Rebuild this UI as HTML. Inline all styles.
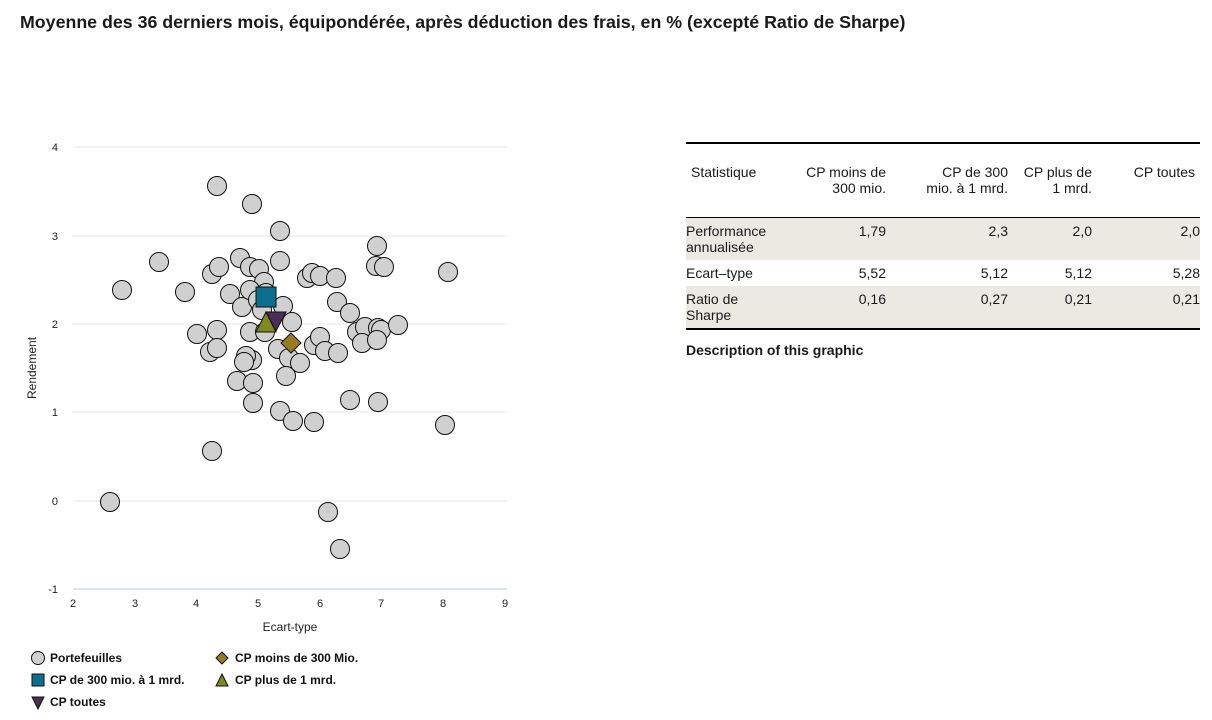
<!DOCTYPE html>
<html><head><meta charset="utf-8"><style>
body{margin:0;width:1212px;height:720px;background:#fff;font-family:"Liberation Sans",sans-serif;color:#1a1a1a;position:relative;overflow:hidden}
.t{position:absolute;left:20px;top:12px;font-size:17.8px;font-weight:bold}
table{position:absolute;left:686px;top:142px;width:514px;border-collapse:collapse;font-size:14px;border-top:2px solid #000;border-bottom:2px solid #000;table-layout:fixed}
td{vertical-align:top;padding:0;line-height:16px}
td.n{text-align:right}
tr.g td{background:#ebe9e2}
.d{position:absolute;left:686px;top:342px;font-size:14px;font-weight:bold}
</style></head><body>
<div class="t">Moyenne des 36 derniers mois, équipondérée, après déduction des frais, en % (excepté Ratio de Sharpe)</div>
<svg width="1212" height="720" style="position:absolute;left:0;top:0" font-family="Liberation Sans, sans-serif">
<g stroke="#e4e4e4" stroke-width="1">
<line x1="73" x2="507" y1="147" y2="147"/><line x1="73" x2="507" y1="236" y2="236"/><line x1="73" x2="507" y1="324" y2="324"/><line x1="73" x2="507" y1="412" y2="412"/><line x1="73" x2="507" y1="501" y2="501"/></g>
<line x1="73" x2="507" y1="589" y2="589" stroke="#b8c8e0"/>
<g font-size="11" fill="#222" text-anchor="end">
<text x="58" y="151">4</text><text x="58" y="240">3</text><text x="58" y="328">2</text><text x="58" y="416">1</text><text x="58" y="505">0</text><text x="58" y="593">-1</text></g>
<g font-size="11" fill="#222" text-anchor="middle">
<text x="73" y="607">2</text><text x="135" y="607">3</text><text x="196" y="607">4</text><text x="258" y="607">5</text><text x="320" y="607">6</text><text x="381" y="607">7</text><text x="443" y="607">8</text><text x="505" y="607">9</text>
<text x="290" y="631" font-size="12">Ecart-type</text>
<text transform="translate(36,368) rotate(-90)" font-size="12">Rendement</text></g>
<g fill="#d0d0d0" stroke="#111" stroke-width="1">
<circle cx="110" cy="502" r="9.5"/><circle cx="122" cy="290" r="9.5"/><circle cx="159" cy="262" r="9.5"/><circle cx="185" cy="292" r="9.5"/><circle cx="197" cy="334" r="9.5"/><circle cx="210" cy="352" r="9.5"/><circle cx="212" cy="451" r="9.5"/><circle cx="217" cy="186" r="9.5"/><circle cx="212" cy="274" r="9.5"/><circle cx="219" cy="267" r="9.5"/><circle cx="217" cy="330" r="9.5"/><circle cx="217" cy="348" r="9.5"/><circle cx="230" cy="294" r="9.5"/><circle cx="240" cy="258" r="9.5"/><circle cx="242" cy="307" r="9.5"/><circle cx="250" cy="267" r="9.5"/><circle cx="252" cy="204" r="9.5"/><circle cx="259" cy="269" r="9.5"/><circle cx="264" cy="282" r="9.5"/><circle cx="250" cy="290" r="9.5"/><circle cx="266" cy="293" r="9.5"/><circle cx="252" cy="360" r="9.5"/><circle cx="246" cy="356" r="9.5"/><circle cx="244" cy="362" r="9.5"/><circle cx="237" cy="381" r="9.5"/><circle cx="253" cy="383" r="9.5"/><circle cx="253" cy="403" r="9.5"/><circle cx="250" cy="332" r="9.5"/><circle cx="265" cy="332" r="9.5"/><circle cx="280" cy="231" r="9.5"/><circle cx="280" cy="261" r="9.5"/><circle cx="283" cy="306" r="9.5"/><circle cx="292" cy="322" r="9.5"/><circle cx="278" cy="349" r="9.5"/><circle cx="289" cy="358" r="9.5"/><circle cx="286" cy="376" r="9.5"/><circle cx="300" cy="363" r="9.5"/><circle cx="280" cy="411" r="9.5"/><circle cx="293" cy="421" r="9.5"/><circle cx="314" cy="422" r="9.5"/><circle cx="307" cy="278" r="9.5"/><circle cx="312" cy="273" r="9.5"/><circle cx="320" cy="276" r="9.5"/><circle cx="314" cy="345" r="9.5"/><circle cx="320" cy="337" r="9.5"/><circle cx="325" cy="351" r="9.5"/><circle cx="338" cy="353" r="9.5"/><circle cx="336" cy="278" r="9.5"/><circle cx="337" cy="302" r="9.5"/><circle cx="350" cy="313" r="9.5"/><circle cx="357" cy="332" r="9.5"/><circle cx="365" cy="327" r="9.5"/><circle cx="362" cy="343" r="9.5"/><circle cx="378" cy="328" r="9.5"/><circle cx="381" cy="330" r="9.5"/><circle cx="377" cy="340" r="9.5"/><circle cx="398" cy="325" r="9.5"/><circle cx="376" cy="266" r="9.5"/><circle cx="384" cy="267" r="9.5"/><circle cx="377" cy="246" r="9.5"/><circle cx="350" cy="400" r="9.5"/><circle cx="378" cy="402" r="9.5"/><circle cx="445" cy="425" r="9.5"/><circle cx="448" cy="272" r="9.5"/><circle cx="328" cy="512" r="9.5"/><circle cx="340" cy="549" r="9.5"/><circle cx="258" cy="300" r="9.5"/><circle cx="262" cy="310" r="9.5"/></g>
<rect x="256" y="287" width="20" height="20" fill="#0a6f8f" stroke="#111"/>
<polygon points="291,333 301,343 291,353 281,343" fill="#9a7a1e" stroke="#111"/>
<polygon points="266,312 276,332 256,332" fill="#7d8a1c" stroke="#111"/>
<polygon points="266,312 286,312 276,331" fill="#4b2c5a" stroke="#111"/>
<g font-size="12" font-weight="bold" fill="#111">
<circle cx="38" cy="658" r="6.5" fill="#d0d0d0" stroke="#111"/><text x="50" y="662">Portefeuilles</text>
<polygon points="222,652 228,658 222,664 216,658" fill="#9a7a1e" stroke="#111"/><text x="235" y="662">CP moins de 300 Mio.</text>
<rect x="32" y="674" width="12" height="12" fill="#0a6f8f" stroke="#111"/><text x="50" y="684">CP de 300 mio. à 1 mrd.</text>
<polygon points="222,674 228,686 216,686" fill="#7d8a1c" stroke="#111"/><text x="235" y="684">CP plus de 1 mrd.</text>
<polygon points="32,697 44,697 38,709" fill="#4b2c5a" stroke="#111"/><text x="50" y="706">CP toutes</text></g>
</svg>
<table>
<colgroup><col style="width:100px"><col style="width:100px"><col style="width:122px"><col style="width:84px"><col style="width:108px"></colgroup>
<tr style="height:74px"><td style="padding:20px 0 0 5px">Statistique</td><td class="n" style="padding-top:20px">CP moins de<br>300 mio.</td><td class="n" style="padding-top:20px">CP de 300<br>mio. à 1 mrd.</td><td class="n" style="padding-top:20px">CP plus de<br>1 mrd.</td><td class="n" style="padding-top:20px;padding-right:5px">CP toutes</td></tr>
<tr class="g" style="height:43px;border-top:1px solid #000"><td style="padding-top:5px">Performance<br>annualisée</td><td class="n" style="padding-top:5px">1,79</td><td class="n" style="padding-top:5px">2,3</td><td class="n" style="padding-top:5px">2,0</td><td class="n" style="padding-top:5px">2,0</td></tr>
<tr style="height:26px"><td style="padding-top:5px">Ecart–type</td><td class="n" style="padding-top:5px">5,52</td><td class="n" style="padding-top:5px">5,12</td><td class="n" style="padding-top:5px">5,12</td><td class="n" style="padding-top:5px">5,28</td></tr>
<tr class="g" style="height:43px"><td style="padding-top:5px">Ratio de<br>Sharpe</td><td class="n" style="padding-top:5px">0,16</td><td class="n" style="padding-top:5px">0,27</td><td class="n" style="padding-top:5px">0,21</td><td class="n" style="padding-top:5px">0,21</td></tr>
</table>
<div class="d">Description of this graphic</div>
</body></html>
